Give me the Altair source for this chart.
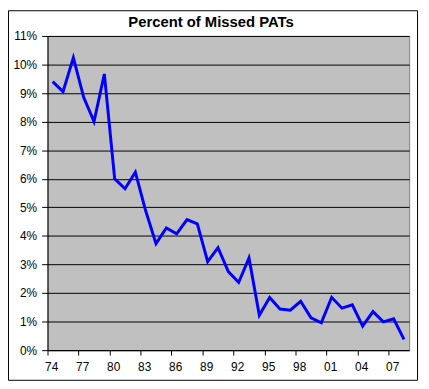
import altair as alt
import pandas as pd

years = list(range(1974, 2009))
missed_pct = [9.40, 9.05, 10.24, 8.85, 8.00, 9.67, 6.00, 5.65, 6.23, 4.88,
              3.73, 4.28, 4.07, 4.57, 4.42, 3.10, 3.59, 2.75, 2.37, 3.23,
              1.22, 1.84, 1.44, 1.40, 1.71, 1.13, 0.96, 1.85, 1.47, 1.59,
              0.84, 1.35, 0.99, 1.10, 0.38]
tick_years = list(range(1974, 2008, 3))
y_ticks = [i / 100 for i in range(0, 12)]
title_text = "Percent of Missed PATs"

df = pd.DataFrame({"year": years, "pct": [v / 100 for v in missed_pct]})
tdf = pd.DataFrame({"label": [title_text]})

W, H = 366, 318
half_cat = W / 35 / 2

line = alt.Chart(df).mark_line(color="#0000FF", strokeWidth=3).encode(
    x=alt.X("year:Q",
            scale=alt.Scale(domain=[1973.5, 2008.5], nice=False, zero=False),
            axis=alt.Axis(values=tick_years, title=None, grid=False,
                          labelExpr="format(datum.value % 100, '02d')",
                          tickOffset=-half_cat, labelOffset=half_cat - 1.5,
                          tickSize=5, labelPadding=7)),
    y=alt.Y("pct:Q",
            scale=alt.Scale(domain=[0, 0.11], nice=False),
            axis=alt.Axis(values=y_ticks, format=".0%", title=None, grid=True,
                          gridColor="#000000", gridOpacity=1, gridWidth=1,
                          tickSize=6, labelPadding=5)),
)

frame = alt.Chart(tdf).mark_rect(fill=None, stroke="#000000", strokeWidth=1).encode(
    x=alt.value(-39.5), x2=alt.value(374.5), y=alt.value(-25.5), y2=alt.value(348.5)
)

title = alt.Chart(tdf).mark_text(
    font="Arial", fontSize=15, fontWeight="bold",
    color="#000000", align="center", baseline="alphabetic"
).encode(text="label:N", x=alt.value(165.5), y=alt.value(-9))

chart = alt.layer(frame, line, title).properties(
    width=W, height=H,
    autosize=alt.AutoSizeParams(type="none"),
    padding={"left": 40, "top": 26, "right": 12, "bottom": 35},
    background="#FFFFFF",
).configure_view(
    fill="#C0C0C0", stroke="#808080", strokeWidth=1
).configure_axis(
    labelFont="Liberation Sans", labelFontSize=12, labelColor="#000000",
    domainColor="#000000", tickColor="#000000", domainWidth=1, tickWidth=1
)

chart.save("out.html", embed_options={"renderer": "svg", "actions": False})
